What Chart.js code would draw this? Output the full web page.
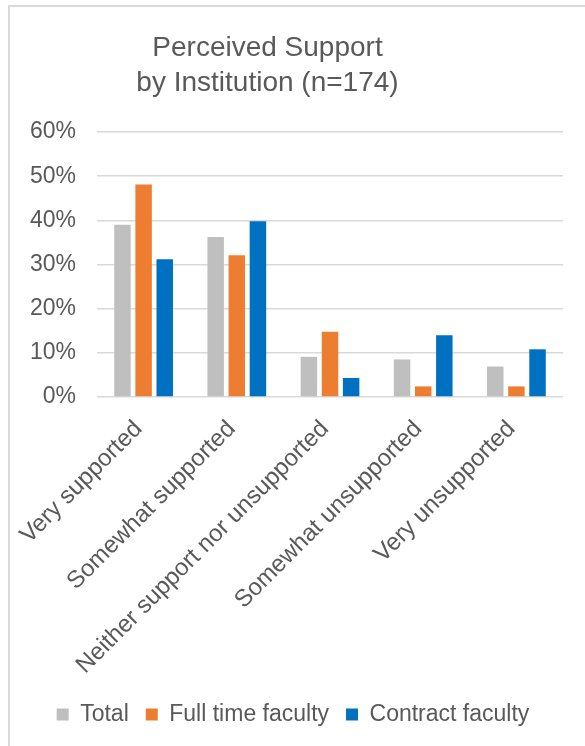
<!DOCTYPE html>
<html>
<head>
<meta charset="utf-8">
<script src="https://cdn.jsdelivr.net/npm/chart.js@4"></script>
<style>
  body { margin: 0; background: #fff; }
  #wrap { position: relative; width: 585px; height: 746px; }
  #frame { position: absolute; left: 8px; top: 5px; right: 0; bottom: 0;
           border-left: 2px solid #d9d9d9; border-top: 2px solid #d9d9d9; }
  canvas { position: absolute; left: 0; top: 0; }
</style>
</head>
<body>
<div id="wrap">
  <div id="frame"></div>
  <canvas id="chart" width="585" height="746"></canvas>
</div>
<script>
const categories = ["Very supported", "Somewhat supported", "Neither support nor unsupported", "Somewhat unsupported", "Very unsupported"]
const total = [39.0, 36.2, 9.1, 8.5, 6.9]
const fullTime = [48.1, 32.1, 14.8, 2.4, 2.4]
const contract = [31.2, 39.8, 4.3, 14.0, 10.8]
const yTicks = [0, 10, 20, 30, 40, 50, 60]

const grey = "#595959"
const font = "'Liberation Sans', Arial, sans-serif"

// shift title and legend a bit, like the original layout
const shiftBlocks = {
    id: "shiftBlocks",
    afterLayout(chart) {
        chart.titleBlock.left = 0
        chart.titleBlock.right = 535
        chart.legend.left = 1
        chart.legend.right = 585
    }
}

const ctx = document.querySelector("#chart")
const chart = new Chart(ctx, {
    type: "bar",
    data: {
        labels: categories,
        datasets: [
            { label: "Total", data: total, backgroundColor: "#bfbfbf", borderWidth: 0 },
            { label: "Full time faculty", data: fullTime, backgroundColor: "#ed7d31", borderWidth: 0 },
            { label: "Contract faculty", data: contract, backgroundColor: "#0070c0", borderWidth: 0 }
        ]
    },
    options: {
        responsive: false,
        animation: false,
        devicePixelRatio: 1,
        categoryPercentage: 0.68,
        barPercentage: 0.78,
        layout: { padding: { left: 0, right: 22, top: 0, bottom: 10 } },
        plugins: {
            title: {
                display: true,
                text: ["Perceived Support", "by Institution (n=174)"],
                color: grey,
                font: { family: font, size: 28, weight: "normal", lineHeight: 1.25 },
                padding: { top: 31, bottom: 31 }
            },
            legend: {
                position: "bottom",
                labels: {
                    color: grey,
                    font: { family: font, size: 23 },
                    boxWidth: 12,
                    boxHeight: 12,
                    padding: 17
                }
            },
            tooltip: { enabled: false }
        },
        scales: {
            x: {
                grid: { display: false },
                border: { display: false },
                ticks: {
                    color: grey,
                    font: { family: font, size: 24 },
                    autoSkip: false,
                    maxRotation: 45,
                    minRotation: 45,
                    padding: 10,
                    labelOffset: -5
                },
                afterFit: (scale) => { scale.height = 289 }
            },
            y: {
                min: 0,
                max: 60,
                afterBuildTicks: (scale) => { scale.ticks = yTicks.map(v => ({ value: v })) },
                grid: { color: "#d9d9d9", lineWidth: 1.5, drawTicks: false },
                border: { display: false },
                ticks: {
                    color: grey,
                    font: { family: font, size: 23 },
                    padding: 21,
                    callback: (v) => v + "%"
                },
                afterFit: (scale) => { scale.width = 97 }
            }
        }
    },
    plugins: [shiftBlocks]
})
</script>
</body>
</html>
